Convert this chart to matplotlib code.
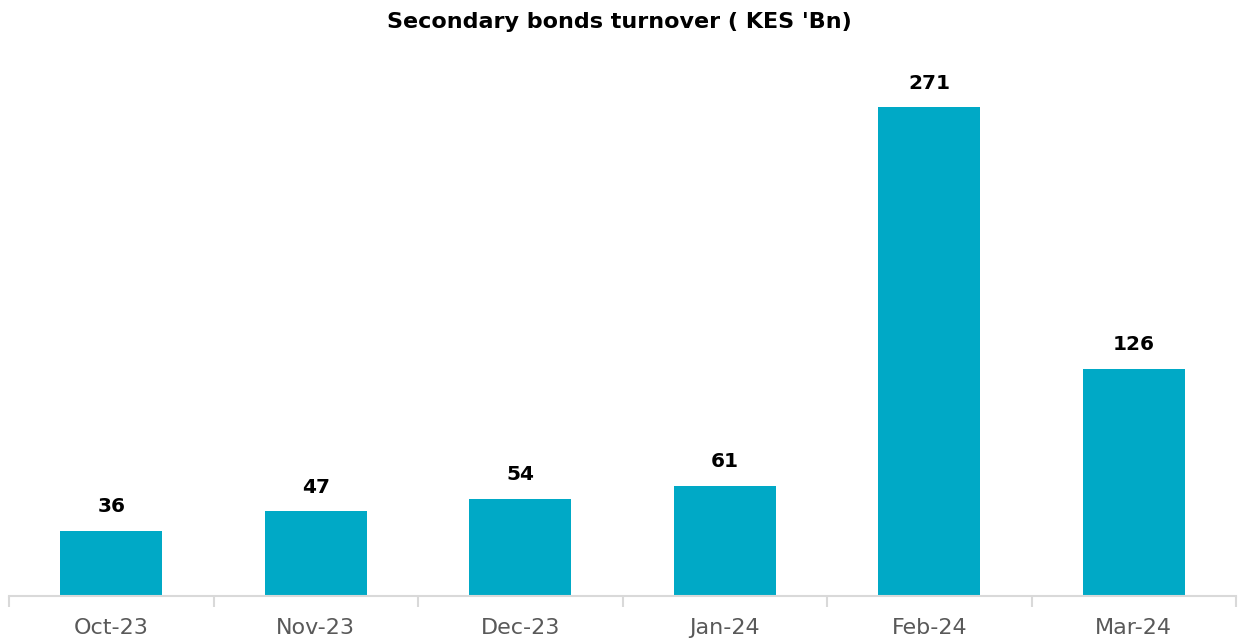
import matplotlib
matplotlib.use("Agg")
import matplotlib.pyplot as plt

categories = ["Oct-23", "Nov-23", "Dec-23", "Jan-24", "Feb-24", "Mar-24"]
values = [36, 47, 54, 61, 271, 126]

plt.rcParams['font.family'] = ['DejaVu Sans']

fig = plt.figure(figsize=(12.39, 6.41), dpi=100)
ax = fig.add_axes([9/1239, 45/641, 1227/1239, 541/641])

x = list(range(len(categories)))
bars = ax.bar(x, values, width=0.5, color="#00A9C6", zorder=2)
for xi, v in zip(x, values):
    ax.annotate(str(v), (xi, v), xytext=(0, 10.5), textcoords="offset points",
                ha="center", va="bottom", fontsize=14.5, fontweight="bold", color="black")

ax.set_xlim(-0.5, len(categories) - 0.5)
ax.set_ylim(0, 300)
ax.set_yticks([])
for s in ["top", "right", "left"]:
    ax.spines[s].set_visible(False)
ax.spines["bottom"].set_color("#D9D9D9")
ax.spines["bottom"].set_linewidth(1.5)
ax.set_xticks(x)
ax.set_xticklabels(categories, fontsize=16, color="#595959")
ax.tick_params(axis="x", length=0, pad=16)
ax.set_xticks([i - 0.5 for i in range(len(categories) + 1)], minor=True)
ax.tick_params(axis="x", which="minor", length=8, width=1.5, color="#D9D9D9")

fig.text(0.5, 1 - 22/641, "Secondary bonds turnover ( KES 'Bn)", ha="center", va="center",
         fontsize=16, fontweight="bold", color="black")

fig.savefig("out.png", dpi=100, facecolor="white")
